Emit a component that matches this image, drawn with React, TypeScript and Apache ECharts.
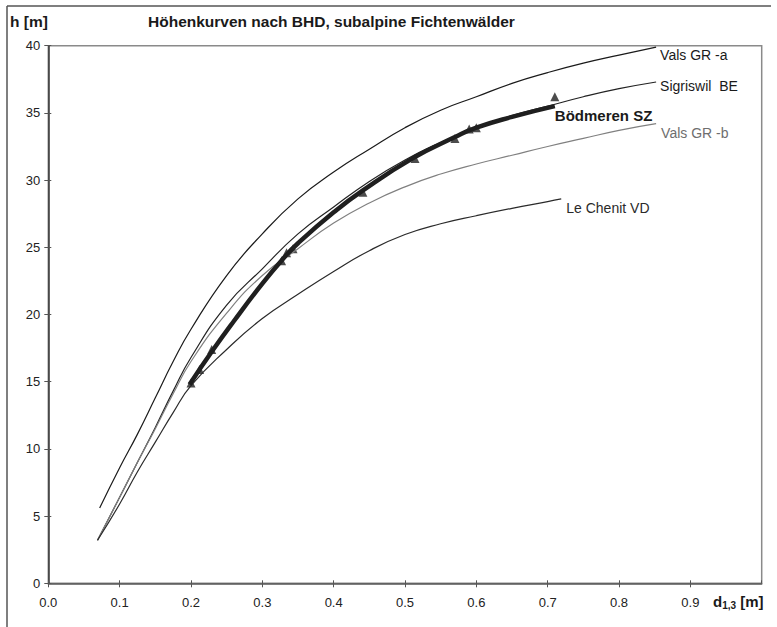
import React, { useEffect, useRef } from "react";
import * as echarts from "echarts";

// Diameter (m) sample positions and heights (m)
const valsA_d = [0.072, 0.1, 0.125, 0.15, 0.175, 0.2, 0.25, 0.3, 0.35, 0.4, 0.45, 0.5, 0.55, 0.6, 0.65, 0.7, 0.75, 0.8, 0.852];
const valsA_h = [5.6, 8.6, 11.1, 13.8, 16.5, 18.9, 22.9, 26.0, 28.6, 30.6, 32.3, 33.9, 35.2, 36.2, 37.2, 38.0, 38.7, 39.3, 39.9];

const sigris_d = [0.069, 0.1, 0.125, 0.15, 0.175, 0.2, 0.25, 0.3, 0.35, 0.4, 0.45, 0.5, 0.55, 0.6, 0.65, 0.7, 0.75, 0.8, 0.852];
const sigris_h = [3.2, 6.4, 9.0, 11.6, 14.3, 16.8, 20.7, 23.4, 26.0, 28.0, 29.9, 31.5, 32.8, 33.9, 34.8, 35.5, 36.2, 36.8, 37.3];

const valsB_d = [0.069, 0.1, 0.125, 0.15, 0.175, 0.2, 0.25, 0.3, 0.35, 0.4, 0.45, 0.5, 0.55, 0.6, 0.65, 0.7, 0.75, 0.8, 0.852];
const valsB_h = [3.2, 6.4, 9.0, 11.5, 14.1, 16.5, 20.1, 22.9, 24.9, 26.8, 28.3, 29.5, 30.45, 31.2, 31.85, 32.5, 33.1, 33.7, 34.2];

const chenit_d = [0.069, 0.1, 0.125, 0.15, 0.175, 0.2, 0.25, 0.3, 0.35, 0.4, 0.45, 0.5, 0.55, 0.6, 0.65, 0.7, 0.719];
const chenit_h = [3.2, 5.9, 8.3, 10.5, 12.7, 14.7, 17.4, 19.7, 21.5, 23.2, 24.75, 25.95, 26.75, 27.35, 27.9, 28.4, 28.6];

const boed_d = [0.198, 0.23, 0.26, 0.3, 0.33, 0.35, 0.4, 0.44, 0.51, 0.57, 0.6, 0.65, 0.71];
const boed_h = [14.8, 17.3, 19.5, 22.3, 24.2, 25.3, 27.6, 29.2, 31.6, 33.2, 33.9, 34.7, 35.5];

const obs_d = [0.2, 0.212, 0.229, 0.327, 0.334, 0.343, 0.441, 0.514, 0.57, 0.59, 0.6, 0.71];
const obs_h = [14.9, 15.9, 17.4, 24.0, 24.6, 24.9, 29.1, 31.6, 33.1, 33.8, 33.9, 36.2];

const yTicks = [0, 5, 10, 15, 20, 25, 30, 35, 40];

const pair = (d: number[], h: number[]) => d.map((v, i) => [v, h[i]]);

export default function App() {
  const ref = useRef<HTMLDivElement>(null);
  useEffect(() => {
    const chart = echarts.init(ref.current!, null, { renderer: "svg" });
    const font = "Liberation Sans, Arial, sans-serif";
    const thin = (name: string, d: number[], h: number[], color: string, offset: number[], labelColor: string) => ({
      type: "line",
      name,
      data: pair(d, h),
      showSymbol: false,
      smooth: 0.5,
      lineStyle: { color, width: 1.2 },
      z: 3,
      endLabel: {
        show: true,
        formatter: name,
        color: labelColor,
        fontFamily: font,
        fontSize: 14,
        distance: 4,
        offset,
      },
    });
    chart.setOption({
      animation: false,
      grid: {
        left: 48.3,
        top: 45.7,
        right: 15.3,
        bottom: 43.7,
        show: true,
        borderColor: "#8a8a8a",
        borderWidth: 1.5,
        backgroundColor: "transparent",
      },
      xAxis: [
        {
          type: "value",
          min: 0,
          max: 1,
          interval: 0.1,
          axisLine: { show: true, lineStyle: { color: "#555", width: 1.5 } },
          axisTick: { show: true, length: 4, lineStyle: { color: "#555" } },
          splitLine: { show: false },
          axisLabel: {
            margin: 13,
            fontFamily: font,
            fontSize: 13,
            color: "#222",
            showMaxLabel: false,
            formatter: (v: number) => (v > 0.95 ? "" : v.toFixed(1)),
          },
        },
        {
          type: "value",
          min: 0,
          max: 1,
          interval: 0.1,
          position: "bottom",
          axisLine: { show: false },
          axisTick: { show: true, inside: true, length: 3, lineStyle: { color: "#555" } },
          splitLine: { show: false },
          axisLabel: { show: false },
        },
      ],
      yAxis: [
        {
          type: "value",
          min: 0,
          max: 40,
          interval: 5,
          axisLine: { show: true, lineStyle: { color: "#333", width: 1.5 } },
          axisTick: { show: true, length: 4, lineStyle: { color: "#555" } },
          splitLine: { show: false },
          axisLabel: {
            margin: 8,
            fontFamily: font,
            fontSize: 13,
            color: "#222",
            formatter: (v: number) => (yTicks.includes(v) ? String(v) : ""),
          },
        },
        {
          type: "value",
          min: 0,
          max: 40,
          interval: 5,
          position: "left",
          axisLine: { show: false },
          axisTick: { show: true, inside: true, length: 3, lineStyle: { color: "#555" } },
          splitLine: { show: false },
          axisLabel: { show: false },
        },
      ],
      series: [
        thin("Vals GR -a", valsA_d, valsA_h, "#1a1a1a", [0, 8], "#1a1a1a"),
        thin("Sigriswil  BE", sigris_d, sigris_h, "#222", [0, 4], "#1a1a1a"),
        thin("Vals GR -b", valsB_d, valsB_h, "#808080", [1, 9], "#6e6e6e"),
        thin("Le Chenit VD", chenit_d, chenit_h, "#2a2a2a", [1, 9], "#2a2a2a"),
        {
          type: "scatter",
          name: "Bödmeren Messungen",
          data: pair(obs_d, obs_h),
          symbol: "triangle",
          symbolSize: 9,
          itemStyle: { color: "#1f1f1f" },
          z: 2,
        },
        {
          type: "line",
          name: "Bödmeren SZ",
          data: pair(boed_d, boed_h),
          showSymbol: false,
          smooth: 0.5,
          lineStyle: { color: "#1f1f1f", width: 4.5 },
          z: 4,
          endLabel: {
            show: true,
            formatter: "Bödmeren SZ",
            color: "#1a1a1a",
            fontFamily: font,
            fontSize: 15,
            fontWeight: "bold",
            distance: 0,
            offset: [0, 9],
          },
        },
      ],
      graphic: [
        { type: "line", shape: { x1: 7, y1: 6, x2: 771, y2: 6 }, style: { stroke: "#555", lineWidth: 1.5 } },
        { type: "line", shape: { x1: 7, y1: 6, x2: 7, y2: 627 }, style: { stroke: "#555", lineWidth: 1.5 } },
        {
          type: "text",
          left: 10,
          top: 13,
          style: { text: "h [m]", fontFamily: font, fontSize: 15.5, fontWeight: "bold", fill: "#1a1a1a" },
        },
        {
          type: "text",
          left: 148,
          top: 13,
          style: {
            text: "Höhenkurven nach BHD, subalpine Fichtenwälder",
            fontFamily: font,
            fontSize: 15.5,
            fontWeight: "bold",
            fill: "#1a1a1a",
          },
        },
        {
          type: "text",
          left: 713,
          top: 594,
          style: {
            text: "{b|d}{s|1,3}{b| [m]}",
            rich: {
              b: { fontFamily: font, fontSize: 15, fontWeight: "bold", fill: "#1a1a1a" },
              s: { fontFamily: font, fontSize: 10, fontWeight: "bold", fill: "#1a1a1a", padding: [8, 0, 0, 0] },
            },
          },
        },
      ],
    });
    return () => chart.dispose();
  }, []);
  return (
    <div
      ref={ref}
      style={{ position: "absolute", left: 0, top: 0, width: 777, height: 627, background: "#fff" }}
    />
  );
}
